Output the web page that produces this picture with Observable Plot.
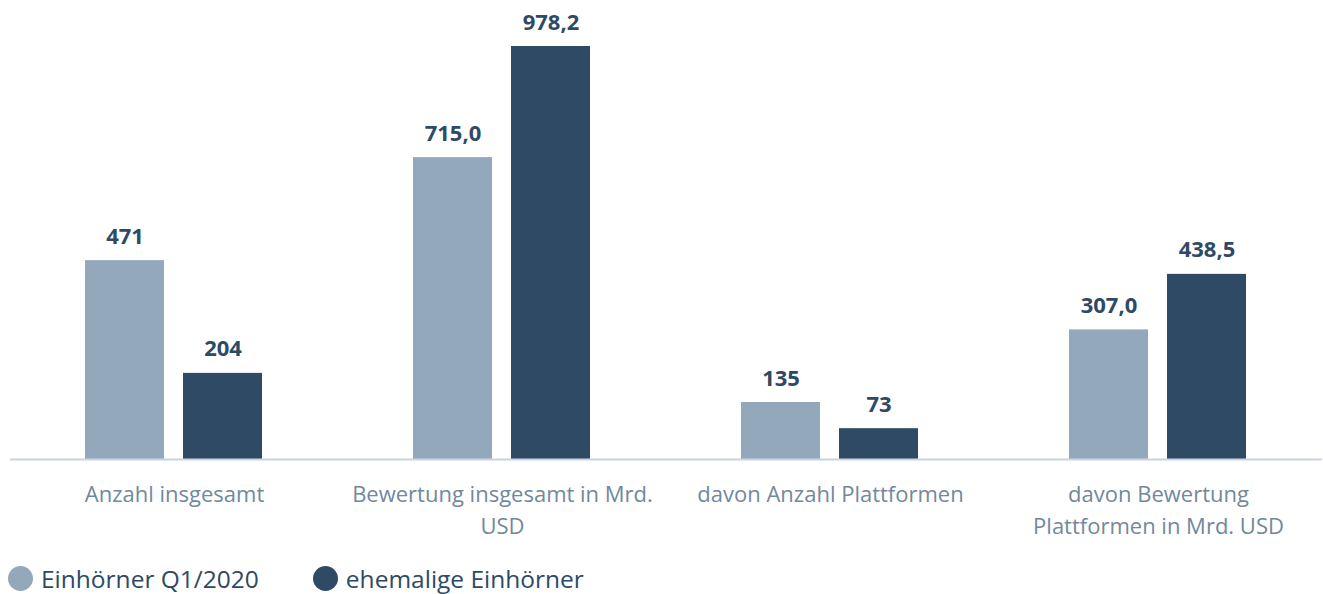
<!DOCTYPE html>
<html>
<head>
<meta charset="utf-8">
<script src="https://cdn.jsdelivr.net/npm/d3@7"></script>
<script src="https://cdn.jsdelivr.net/npm/@observablehq/plot@0.6"></script>
<style>
  body { margin: 0; background: #fff; font-family: "Open Sans", sans-serif; }
  #chart { position: absolute; left: 0; top: 0; }
  .legend { position: absolute; left: 8px; top: 564px; height: 28px; display: flex; align-items: center; font-size: 24.5px; color: #2e4a64; }
  .legend .sw { width: 25px; height: 25px; border-radius: 50%; display: inline-block; margin-right: 8px; }
  .legend .item { display: flex; align-items: center; margin-right: 54px; }
</style>
</head>
<body>
<div id="chart"></div>
<div class="legend" id="legend"></div>
<script>
const groups = ["Anzahl insgesamt", "Bewertung insgesamt in Mrd. USD", "davon Anzahl Plattformen", "davon Bewertung Plattformen in Mrd. USD"];
const groupLabels = ["Anzahl insgesamt", "Bewertung insgesamt in Mrd.\nUSD", "davon Anzahl Plattformen", "davon Bewertung\nPlattformen in Mrd. USD"];
const groupDecimals = [0, 1, 0, 1];
const series = ["Einhörner Q1/2020", "ehemalige Einhörner"];
const seriesColors = ["#94a8bc", "#2e4a64"];
const valuesQ1 = [471, 715.0, 135, 307.0];
const valuesEhemalig = [204, 978.2, 73, 438.5];

const data = [];
groups.forEach((g, i) => {
  data.push({group: g, series: series[0], value: valuesQ1[i], dec: groupDecimals[i]});
  data.push({group: g, series: series[1], value: valuesEhemalig[i], dec: groupDecimals[i]});
});
const fmt = d => d.value.toLocaleString("de-DE", {minimumFractionDigits: d.dec, maximumFractionDigits: d.dec});

const chart = Plot.plot({
  width: 1323,
  height: 548,
  marginLeft: 8,
  marginRight: 0,
  marginTop: 46,
  marginBottom: 89,
  style: {fontFamily: "'Open Sans', sans-serif", background: "#fff"},
  fx: {domain: groups, padding: 0, axis: null},
  x: {domain: series, paddingInner: 0.192, paddingOuter: 0.758, axis: null},
  y: {domain: [0, 978.2], axis: null},
  color: {domain: series, range: seriesColors},
  marks: [
    Plot.barY(data, {fx: "group", x: "series", y: "value", fill: "series"}),
    Plot.ruleY([0], {stroke: "#c9d4e4", strokeWidth: 2}),
    Plot.text(data, {fx: "group", x: "series", y: "value", text: fmt, dy: -17, lineAnchor: "bottom", fontSize: 22, fontWeight: "bold", fill: "#2e4a64"}),
    Plot.text(groups, {fx: d => d, text: (d, i) => groupLabels[i], frameAnchor: "bottom", lineAnchor: "top", dy: 20, fontSize: 22, lineHeight: 1.45, fill: "#71889d"})
  ]
});
document.getElementById("chart").appendChild(chart);

const legend = document.getElementById("legend");
series.forEach((s, i) => {
  const item = document.createElement("span");
  item.className = "item";
  const sw = document.createElement("span");
  sw.className = "sw";
  sw.style.background = seriesColors[i];
  item.appendChild(sw);
  item.appendChild(document.createTextNode(s));
  legend.appendChild(item);
});
</script>
</body>
</html>
